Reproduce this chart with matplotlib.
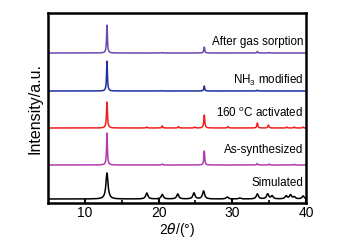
import numpy as np
import matplotlib.pyplot as plt

plt.rcParams['font.family'] = ['Liberation Sans', 'DejaVu Sans']

# peak positions (2theta) and heights for each pattern
sim_pos = [13.0, 18.4, 20.5, 22.6, 24.8, 26.1, 29.3, 31.0, 33.4, 34.8, 35.4, 37.3, 37.9, 38.4, 39.6]
sim_h = [26, 6, 4.5, 5, 6, 8, 2, 1, 5, 5, 3, 3, 4, 2, 3]

syn_pos = [13.0, 20.5, 26.2, 33.4, 35.0, 38.4]
syn_h = [32, 1, 14, 1.5, 1, 0.8]

act_pos = [13.0, 18.4, 20.5, 22.7, 24.9, 26.2, 29.4, 33.4, 34.9, 37.4, 38.4, 39.6]
act_h = [26, 1, 2, 1.5, 1, 13, 1.5, 5, 3, 1, 1, 1]

nh3_pos = [13.0, 20.5, 26.2, 33.4]
nh3_h = [30, 0.4, 5, 0.8]

gas_pos = [13.0, 20.5, 26.2, 33.4, 35.0]
gas_h = [28, 0.5, 6, 1.5, 0.5]

labels = ['Simulated', 'As-synthesized', '160 $^{\\mathregular{o}}$C activated',
          'NH$_\\mathregular{3}$ modified', 'After gas sorption']
colors = ['#000000', '#b03cb0', '#f02020', '#2030a0', '#6a48b0']
offsets = [4, 38, 75, 112, 150]
label_dy = [16, 15, 15, 11, 11]
widths = [0.17, 0.07, 0.08, 0.07, 0.07]

patterns = [(sim_pos, sim_h), (syn_pos, syn_h), (act_pos, act_h),
            (nh3_pos, nh3_h), (gas_pos, gas_h)]

x = np.linspace(5, 40, 3000)

fig = plt.figure(figsize=(3.39, 2.43), dpi=100)
ax = fig.add_axes([48 / 339, 40 / 243, 258 / 339, 190 / 243])

for (pos, h), lab, c, off, dy, w in zip(patterns, labels, colors, offsets, label_dy, widths):
    y = np.zeros_like(x)
    for p, hh in zip(pos, h):
        y += hh / (1 + ((x - p) / w) ** 2)
    ax.plot(x, y + off, color=c, lw=1.1)
    ax.text(39.6, off + dy, lab, ha='right', va='center', fontsize=8.4)

ax.set_xlim(5, 40)
ax.set_ylim(0, 190)
ax.set_xticks([10, 20, 30, 40])
ax.set_xticks([15, 25, 35], minor=True)
ax.set_yticks([])
ax.tick_params(axis='x', direction='in', length=3, width=1.5, labelsize=10, pad=2)
ax.tick_params(axis='x', which='minor', direction='in', length=2, width=1.2)
for s in ax.spines.values():
    s.set_linewidth(1.8)
ax.set_xlabel('2$\\theta$/(°)', fontsize=10, labelpad=1)
ax.set_ylabel('Intensity/a.u.', fontsize=11.5, labelpad=4)

fig.savefig('out.png', dpi=100)
